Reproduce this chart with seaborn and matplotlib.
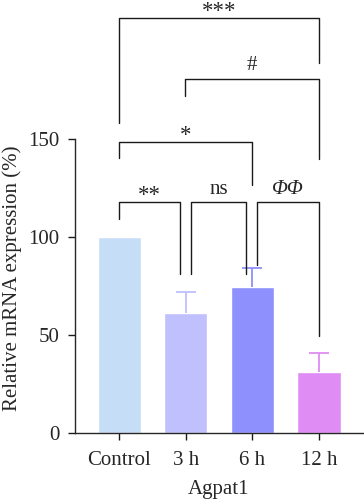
import matplotlib
matplotlib.use("Agg")
import matplotlib.pyplot as plt
import seaborn as sns
import pandas as pd

# values
groups = ["Control", "3 h", "6 h", "12 h"]
means = [100, 61.5, 74.5, 31.2]
errs = [0, 10.5, 9.8, 9.6]
colors = ["#c6ddf7", "#bfc0fd", "#8e90fd", "#e08cf5"]

# significance brackets: (x1, x2, top, left leg end, right leg end, label)
brackets = [
    (0.0, 0.915, 117.7, 109.2, 81.0, "**"),
    (1.08, 1.91, 117.7, 81.0, 81.0, "ns"),
    (2.075, 3.0, 117.7, 85.7, 49.6, "ΦΦ"),
    (0.0, 2.0, 148.6, 140.5, 126.5, "*"),
    (0.985, 3.0, 180.6, 172.0, 140.0, "#"),
    (0.0, 3.0, 212.0, 158.0, 189.0, "***"),
]


def draw_chart():
    sns.set_theme(style="ticks")
    plt.rcParams["font.family"] = ["Liberation Serif", "DejaVu Serif"]
    plt.rcParams["axes.linewidth"] = 1.0

    df = pd.DataFrame({"Group": groups, "Value": means})

    fig = plt.figure(figsize=(3.64, 5.0), dpi=100)
    ax = fig.add_axes([0.206, 0.134, 0.791, 0.866])

    sns.barplot(data=df, x="Group", y="Value", hue="Group", palette=colors,
                width=0.65, errorbar=None, legend=False, ax=ax, saturation=1)

    for i, (m, e, c) in enumerate(zip(means, errs, colors)):
        if e > 0:
            _, caps, _ = ax.errorbar(i, m, yerr=[[0], [e]], fmt="none", ecolor=c,
                                     elinewidth=1.3, capsize=7.5, capthick=1.3)
            caps[0].set_visible(False)  # only the upper cap

    for x1, x2, top, y1, y2, lab in brackets:
        ax.plot([x1, x1, x2, x2], [y1, top, top, y2], color="#1a1a1a",
                lw=1.0, clip_on=False)
        style = "italic" if lab == "ΦΦ" else "normal"
        star = lab.startswith("*")
        off = 0.5 if star else 4.5
        ax.text((x1 + x2) / 2, top + off, lab, ha="center", va="baseline",
                fontsize=16.5 if star else 15, fontstyle=style, clip_on=False)

    ax.set_xlim(-0.665, 3.66)
    ax.set_ylim(0, 221)
    ax.set_yticks([0, 50, 100, 150])
    ax.spines["left"].set_bounds(0, 150)
    sns.despine(ax=ax)
    ax.tick_params(axis="both", length=5, width=1.0, labelsize=15,
                   color="#1a1a1a")
    ax.tick_params(axis="x", pad=8)
    ax.tick_params(axis="y", pad=6)
    ax.set_xlabel("Agpat1", fontsize=15, labelpad=7.5)
    ax.set_ylabel("Relative mRNA expression (%)", fontsize=15)
    ax.yaxis.set_label_coords(-0.184, 0.358)

    fig.savefig("out.png", dpi=100)


if __name__ == "__main__":
    draw_chart()
